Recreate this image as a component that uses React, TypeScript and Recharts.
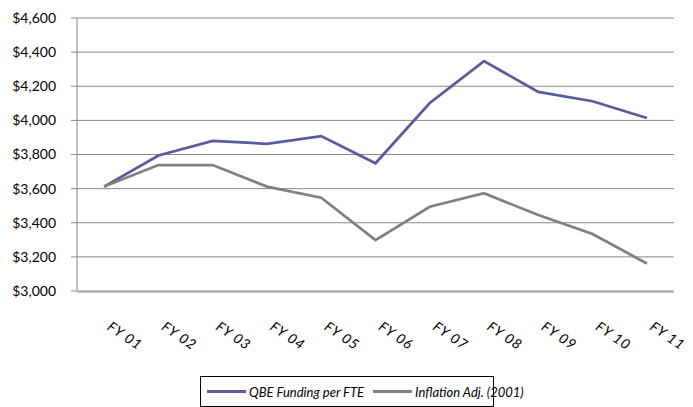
import * as React from 'react';
import { LineChart, Line, XAxis, YAxis, CartesianGrid } from 'recharts';

const years = ['FY 01', 'FY 02', 'FY 03', 'FY 04', 'FY 05', 'FY 06', 'FY 07', 'FY 08', 'FY 09', 'FY 10', 'FY 11'];
const qbeFunding = [3612, 3794, 3880, 3863, 3908, 3749, 4102, 4347, 4167, 4112, 4014];
const inflationAdj = [3612, 3738, 3738, 3612, 3547, 3298, 3494, 3573, 3445, 3334, 3161];
const yTicks = [3000, 3200, 3400, 3600, 3800, 4000, 4200, 4400, 4600];
const seriesNames = ['QBE Funding per FTE', 'Inflation Adj. (2001)'];

const BLUE = '#5a5b9e';
const GREY = '#808080';
const AXIS = '#8a8a8a';
const FONT = 'Lato, "Open Sans", sans-serif';

const rows = years.map((year, i) => ({ year, qbe: qbeFunding[i], infl: inflationAdj[i] }));
const edgeTicks = years.map((_, i) => i).concat(years.length);

const FyTick = (props: any) => {
  const { x, y, payload } = props;
  return (
    <g transform={`translate(${x + 2},${y + 38})`}>
      <text transform="rotate(34)" textAnchor="start" fontSize={14} letterSpacing={0.8} fontStyle="italic" fill="#000" fontFamily={FONT}>
        {payload.value}
      </text>
    </g>
  );
};

const LegendBox: React.FC = () => {
  const colors = [BLUE, GREY];
  return (
    <div
      style={{
        position: 'absolute', left: 200, top: 376, width: 292, height: 29,
        border: '1px solid #000', display: 'flex', alignItems: 'center', whiteSpace: 'nowrap',
        fontFamily: FONT, fontStyle: 'italic', fontSize: 13, color: '#000', boxSizing: 'content-box',
      }}
    >
      {seriesNames.map((name, i) => (
        <div key={name} style={{ display: 'flex', alignItems: 'center', marginLeft: i === 0 ? 6 : 9 }}>
          <span style={{ display: 'inline-block', width: 39, height: 3, background: colors[i], marginRight: 3 }} />
          <span>{name}</span>
        </div>
      ))}
    </div>
  );
};

export default function App() {
  return (
    <div style={{ position: 'absolute', left: 0, top: 0, width: 693, height: 407, background: '#fff', overflow: 'hidden' }}>
      <LineChart width={693} height={407} data={rows} margin={{ top: 18, right: 19, bottom: 114, left: 0 }}>
        <CartesianGrid vertical={false} stroke={AXIS} strokeWidth={1} />
        <XAxis
          xAxisId="edge"
          type="number"
          domain={[0, years.length]}
          ticks={edgeTicks}
          allowDataOverflow
          tick={false}
          tickSize={6}
          height={1}
          axisLine={{ stroke: AXIS }}
          tickLine={{ stroke: AXIS }}
        />
        <XAxis
          dataKey="year"
          scale="band"
          height={1}
          axisLine={false}
          tickLine={false}
          tickSize={0}
          tickMargin={0}
          interval={0}
          tick={<FyTick />}
        />
        <YAxis
          width={77}
          domain={[3000, 4600]}
          ticks={yTicks}
          interval={0}
          tickSize={6}
          tickMargin={15}
          axisLine={{ stroke: AXIS }}
          tickLine={{ stroke: AXIS }}
          tick={{ fontSize: 14, fill: '#000', fontFamily: FONT }}
          tickFormatter={(v: number) => '$' + v.toLocaleString('en-US')}
        />
        <Line dataKey="qbe" name={seriesNames[0]} stroke={BLUE} strokeWidth={2.75} dot={false} isAnimationActive={false} />
        <Line dataKey="infl" name={seriesNames[1]} stroke={GREY} strokeWidth={2.75} dot={false} isAnimationActive={false} />
      </LineChart>
      <LegendBox />
    </div>
  );
}
